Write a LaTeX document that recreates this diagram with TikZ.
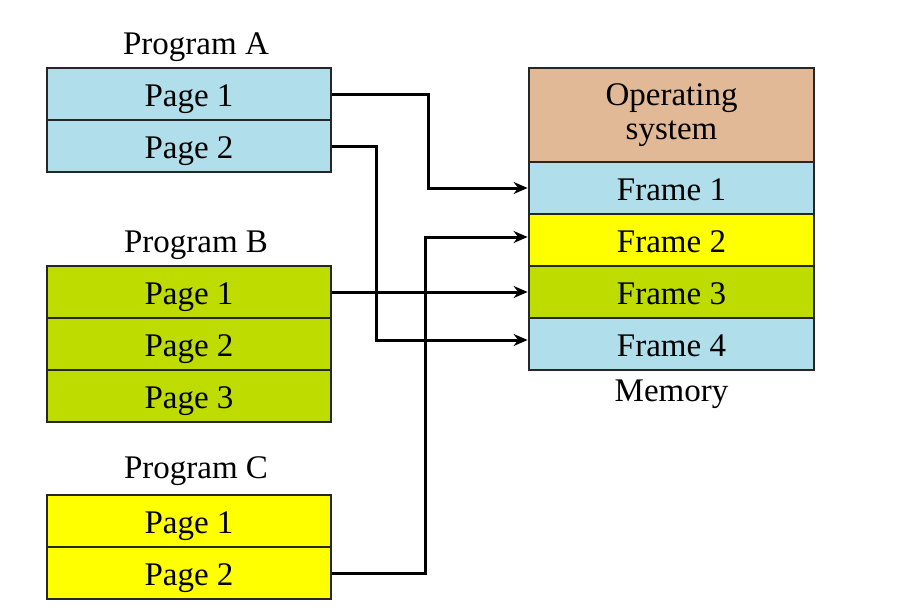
\documentclass[tikz,border=0pt]{standalone}
\usepackage{fontspec}
\setmainfont{Liberation Serif}
\usetikzlibrary{arrows.meta}
\definecolor{pblue}{RGB}{176,222,234}
\definecolor{pgreen}{RGB}{190,220,0}
\definecolor{pyellow}{RGB}{255,255,0}
\definecolor{ptan}{RGB}{225,185,150}
\begin{document}
\begin{tikzpicture}[x=1pt,y=-1pt,
  cell/.style={draw=black!85,line width=2.8pt,minimum width=284pt,minimum height=52pt,inner sep=0pt,text height=30pt,text depth=6pt,font=\fontsize{33}{34}\selectfont},
  lbl/.style={font=\fontsize{33}{34}\selectfont,inner sep=0pt},
  conn/.style={line width=3pt,-{Stealth[length=14pt,width=12pt]}},
  line join=miter]
\useasboundingbox (0,0) rectangle (907,610);
% Program A
\node[lbl] (la) at (196,47) {Program A};
\node[cell,fill=pblue] (a1) at (189,94) {Page 1};
\node[cell,fill=pblue] (a2) at (189,146) {Page 2};
% Program B
\node[lbl] (lb) at (196,245) {Program B};
\node[cell,fill=pgreen] (b1) at (189,292) {Page 1};
\node[cell,fill=pgreen] (b2) at (189,344) {Page 2};
\node[cell,fill=pgreen] (b3) at (189,396) {Page 3};
% Program C
\node[lbl] (lc) at (196,471) {Program C};
\node[cell,fill=pyellow] (c1) at (189,521) {Page 1};
\node[cell,fill=pyellow] (c2) at (189,573) {Page 2};
% Memory
\node[cell,fill=ptan,minimum width=285pt,minimum height=94pt,align=center,text height=,text depth=,font=\fontsize{33}{34}\selectfont] (os) at (671.5,115) {Operating\\system};
\node[cell,fill=pblue,minimum width=285pt] (f1) at (671.5,188) {Frame 1};
\node[cell,fill=pyellow,minimum width=285pt] (f2) at (671.5,240) {Frame 2};
\node[cell,fill=pgreen,minimum width=285pt] (f3) at (671.5,292) {Frame 3};
\node[cell,fill=pblue,minimum width=285pt] (f4) at (671.5,344) {Frame 4};
\node[lbl] (mem) at (671.5,394) {Memory};
% connectors
\draw[conn] (a1.east) -| (428,188) -- (f1.west);
\draw[conn] (a2.east) -| (376,340) -- (f4.west |- 0,340);
\draw[conn] (b1.east) -- (f3.west);
\draw[conn] (c2.east) -| (425,237) -- (f2.west |- 0,237);
\end{tikzpicture}
\end{document}
